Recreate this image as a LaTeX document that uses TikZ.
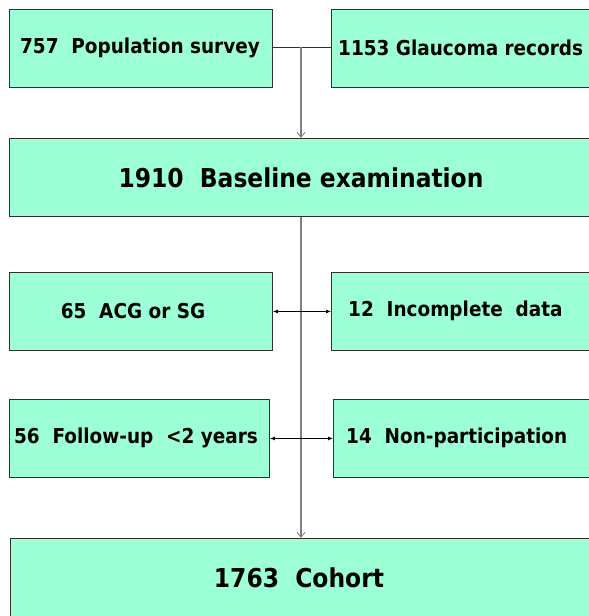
\documentclass[tikz,border=0pt]{standalone}
\usepackage{fontspec}
\setmainfont{DejaVu Sans Condensed}[BoldFont={DejaVu Sans Condensed Bold}]
\usetikzlibrary{arrows.meta}
\definecolor{mint}{HTML}{9CFFD6}
\definecolor{edge}{HTML}{303030}
\definecolor{conn}{HTML}{808080}
\tikzset{
  box/.style={draw=edge, line width=0.9pt, fill=mint, rectangle, inner sep=0pt, anchor=north west},
  txt/.style={font=\bfseries\fontsize{20.5}{24}\selectfont, inner sep=0pt, text=black},
  bigtxt/.style={font=\bfseries\fontsize{26}{30}\selectfont, inner sep=0pt, text=black},
  vconn/.style={draw=conn, line width=1.1pt, -{Straight Barb[length=5pt,width=8pt,line width=0.9pt]}},
  hconn/.style={draw=black, line width=0.8pt, {Latex[length=5pt,width=4pt]}-{Latex[length=5pt,width=4pt]}},
}
\begin{document}
\begin{tikzpicture}[x=1pt,y=-1pt]
\useasboundingbox (0,0) rectangle (589,616);
\begin{scope}
\clip (0,0) rectangle (589,616);
\node[box, minimum width=263pt, minimum height=78pt] (A) at (9,9) {};
\node[box, minimum width=270pt, minimum height=78pt] (B) at (331,9) {};
\node[box, minimum width=591pt, minimum height=78pt] (C) at (9,138) {};
\node[box, minimum width=263pt, minimum height=78pt] (D) at (9,272) {};
\node[box, minimum width=270pt, minimum height=78pt] (E) at (331,272) {};
\node[box, minimum width=260pt, minimum height=78pt] (F) at (9,399) {};
\node[box, minimum width=268pt, minimum height=78pt] (G) at (333,399) {};
\node[box, minimum width=590pt, minimum height=90pt] (H) at (10,538) {};
\end{scope}
\node[txt] (tA) at (140,48) {757\ \ Population\ survey};
\node[txt, anchor=west] (tB) at (338,48) {1153\ Glaucoma\ records};
\node[bigtxt] (tC) at (301,178) {1910\ \ Baseline examination};
\node[txt] (tD) at (133,311) {65\ \ ACG or SG};
\node[txt, anchor=west] (tE) at (348,311) {12\ \ Incomplete\ \ data};
\node[txt] (tF) at (136,438) {56\ \ Follow-up\ \ <2 years};
\node[txt, anchor=west] (tG) at (346,438) {14\ \ Non-participation};
\node[bigtxt] (tH) at (299,578) {1763\ \ Cohort};
\coordinate (j) at (301,47);
\draw[draw=edge, line width=0.9pt] (A.east |- j) -- (B.west |- j);
\draw[vconn] (j) -- (j |- C.north);
\draw[vconn] (j |- C.south) -- (j |- H.north);
\draw[hconn] (D.east) -- (D.east -| E.west);
\draw[hconn] (F.east) -- (F.east -| G.west);
\end{tikzpicture}
\end{document}
